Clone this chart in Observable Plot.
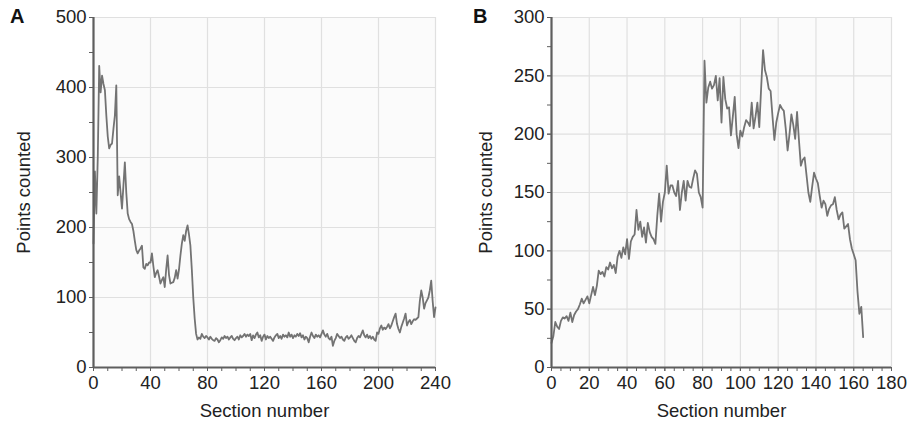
<!DOCTYPE html>
<html>
<head>
<meta charset="utf-8">
<script src="https://cdn.jsdelivr.net/npm/d3@7"></script>
<script src="https://cdn.jsdelivr.net/npm/@observablehq/plot@0.6"></script>
<style>
  html, body { margin: 0; padding: 0; background: #fff; }
  #wrap { position: relative; width: 908px; height: 424px; font-family: "Liberation Sans", Arial, sans-serif; }
  .panel { position: absolute; top: 0; }
  .tag { position: absolute; font-weight: bold; font-size: 20px; color: #111; }
</style>
</head>
<body>
<div id="wrap">
  <div class="panel" id="pa" style="left:0px"></div>
  <div class="panel" id="pb" style="left:454px"></div>
  <div class="tag" style="left:10px; top:5px">A</div>
  <div class="tag" style="left:473px; top:5px">B</div>
</div>
<script>
// Panel A: points counted per section (sections 0..240)
const countsA = [
  177, 280, 220, 300, 431, 393, 417, 405, 396, 360,
  330, 313, 318, 320, 341, 360, 403, 246, 273, 250,
  227, 260, 293, 250, 220, 212, 208, 205, 195, 181,
  168, 163, 167, 170, 174, 143, 141, 148, 146, 150,
  150, 163, 145, 129, 135, 139, 130, 120, 125, 129,
  115, 140, 160, 132, 120, 121, 122, 128, 139, 127,
  140, 160, 177, 189, 181, 195, 203, 190, 174, 140,
  100, 70, 48, 40, 43, 41, 48, 44, 42, 45,
  43, 40, 44, 41, 39, 38, 42, 40, 36, 39,
  43, 41, 45, 42, 44, 40, 43, 45, 41, 39,
  42, 44, 40, 46, 43, 45, 48, 44, 47, 45,
  48, 39, 46, 42, 47, 50, 43, 46, 38, 44,
  47, 40, 45, 42, 44, 41, 38, 43, 46, 48,
  42, 45, 41, 47, 44, 46, 43, 50, 44, 47,
  42, 46, 44, 48, 45, 49, 43, 46, 40, 44,
  42, 36, 44, 50, 45, 42, 47, 44, 46, 43,
  48, 53, 47, 44, 48, 42, 40, 44, 31, 38,
  42, 48, 45, 42, 44, 40, 38, 43, 45, 41,
  43, 46, 42, 38, 36, 42, 45, 43, 48, 53,
  46, 43, 47, 42, 45, 41, 44, 40, 38, 50,
  48, 56, 60, 54, 57, 55, 58, 62, 56, 60,
  66, 72, 77, 62, 55, 50, 58, 64, 70, 77,
  60, 65, 68, 62, 66, 69, 68, 70, 72, 95,
  110, 100, 84, 92, 96, 100, 110, 124, 95, 72,
  86
];

// Panel B: points counted per section (sections 0..165)
const countsB = [
  21, 27, 39, 35, 33, 40, 43, 42, 44, 40,
  47, 39, 45, 48, 50, 54, 59, 55, 58, 61,
  55, 62, 69, 62, 70, 83, 80, 82, 78, 86,
  84, 90, 85, 88, 81, 95, 100, 94, 103, 97,
  110, 93, 108, 112, 114, 135, 118, 125, 112, 120,
  107, 124, 116, 112, 110, 106, 130, 149, 125, 142,
  150, 173, 149, 156, 156, 150, 147, 160, 135, 150,
  160, 143, 160, 155, 154, 162, 169, 166, 150, 146,
  137, 263, 227, 240, 245, 239, 242, 250, 229, 248,
  210, 249, 230, 222, 223, 199, 215, 232, 200, 188,
  203, 198, 206, 212, 210, 207, 227, 205, 215, 227,
  206, 240, 272, 255, 249, 239, 237, 215, 195, 210,
  218, 225, 222, 220, 205, 186, 200, 217, 208, 196,
  219, 195, 173, 178, 180, 165, 150, 142, 155, 167,
  162, 158, 147, 137, 143, 140, 130, 136, 139, 140,
  146, 135, 127, 131, 133, 119, 121, 123, 110, 102,
  97, 92, 65, 46, 52, 26
];

const xTicksA = [0, 40, 80, 120, 160, 200, 240];
const xMinorA = d3.range(0, 241, 10);
const yTicksA = [0, 100, 200, 300, 400, 500];
const yMinorA = d3.range(0, 501, 50);

const xTicksB = [0, 20, 40, 60, 80, 100, 120, 140, 160, 180];
const xMinorB = d3.range(0, 181, 5);
const yTicksB = [0, 50, 100, 150, 200, 250, 300];
const yMinorB = d3.range(0, 301, 25);

const xLabel = "Section number";
const yLabel = "Points counted";

function panel(counts, xDomain, xTicks, xMinor, yDomain, yTicks, yMinor, margins, yLabelOffset) {
  const data = counts.map((v, i) => ({section: i, count: v}));
  const axisColor = "#5e5e5e";
  return Plot.plot({
    width: 454,
    height: 424,
    marginLeft: margins.left,
    marginRight: margins.right,
    marginTop: 17,
    marginBottom: 57,
    style: {fontFamily: "'Liberation Sans', Arial, sans-serif", fontSize: "18.5px", color: "#222", background: "transparent"},
    x: {domain: xDomain},
    y: {domain: yDomain},
    marks: [
      Plot.frame({fill: "#fbfbfb", stroke: null}),
      Plot.gridX(xTicks, {stroke: "#e0e0e0", strokeOpacity: 1, strokeWidth: 1.2}),
      Plot.gridY(yTicks, {stroke: "#e0e0e0", strokeOpacity: 1, strokeWidth: 1.2}),
      Plot.line(data, {x: "section", y: "count", stroke: "#737373", strokeWidth: 1.8}),
      Plot.axisX(xMinor, {tickSize: 4, stroke: axisColor, tickFormat: () => "", label: null}),
      Plot.axisX(xTicks, {tickSize: 4, stroke: axisColor, tickPadding: 4, label: xLabel, labelAnchor: "center", labelOffset: 49, labelArrow: false}),
      Plot.axisY(yMinor, {tickSize: 4, stroke: axisColor, tickFormat: () => "", label: null}),
      Plot.axisY(yTicks, {tickSize: 4, stroke: axisColor, tickPadding: 3, label: yLabel, labelAnchor: "center", labelOffset: yLabelOffset, labelArrow: false}),
      Plot.ruleX([xDomain[0]], {stroke: axisColor, strokeWidth: 2.2}),
      Plot.ruleY([yDomain[0]], {stroke: axisColor, strokeWidth: 2.2})
    ]
  });
}

document.getElementById("pa").appendChild(
  panel(countsA, [0, 240], xTicksA, xMinorA, [0, 500], yTicksA, yMinorA, {left: 93, right: 19}, 77)
);
document.getElementById("pb").appendChild(
  panel(countsB, [0, 180], xTicksB, xMinorB, [0, 300], yTicksB, yMinorB, {left: 97, right: 17}, 73)
);
</script>
</body>
</html>
